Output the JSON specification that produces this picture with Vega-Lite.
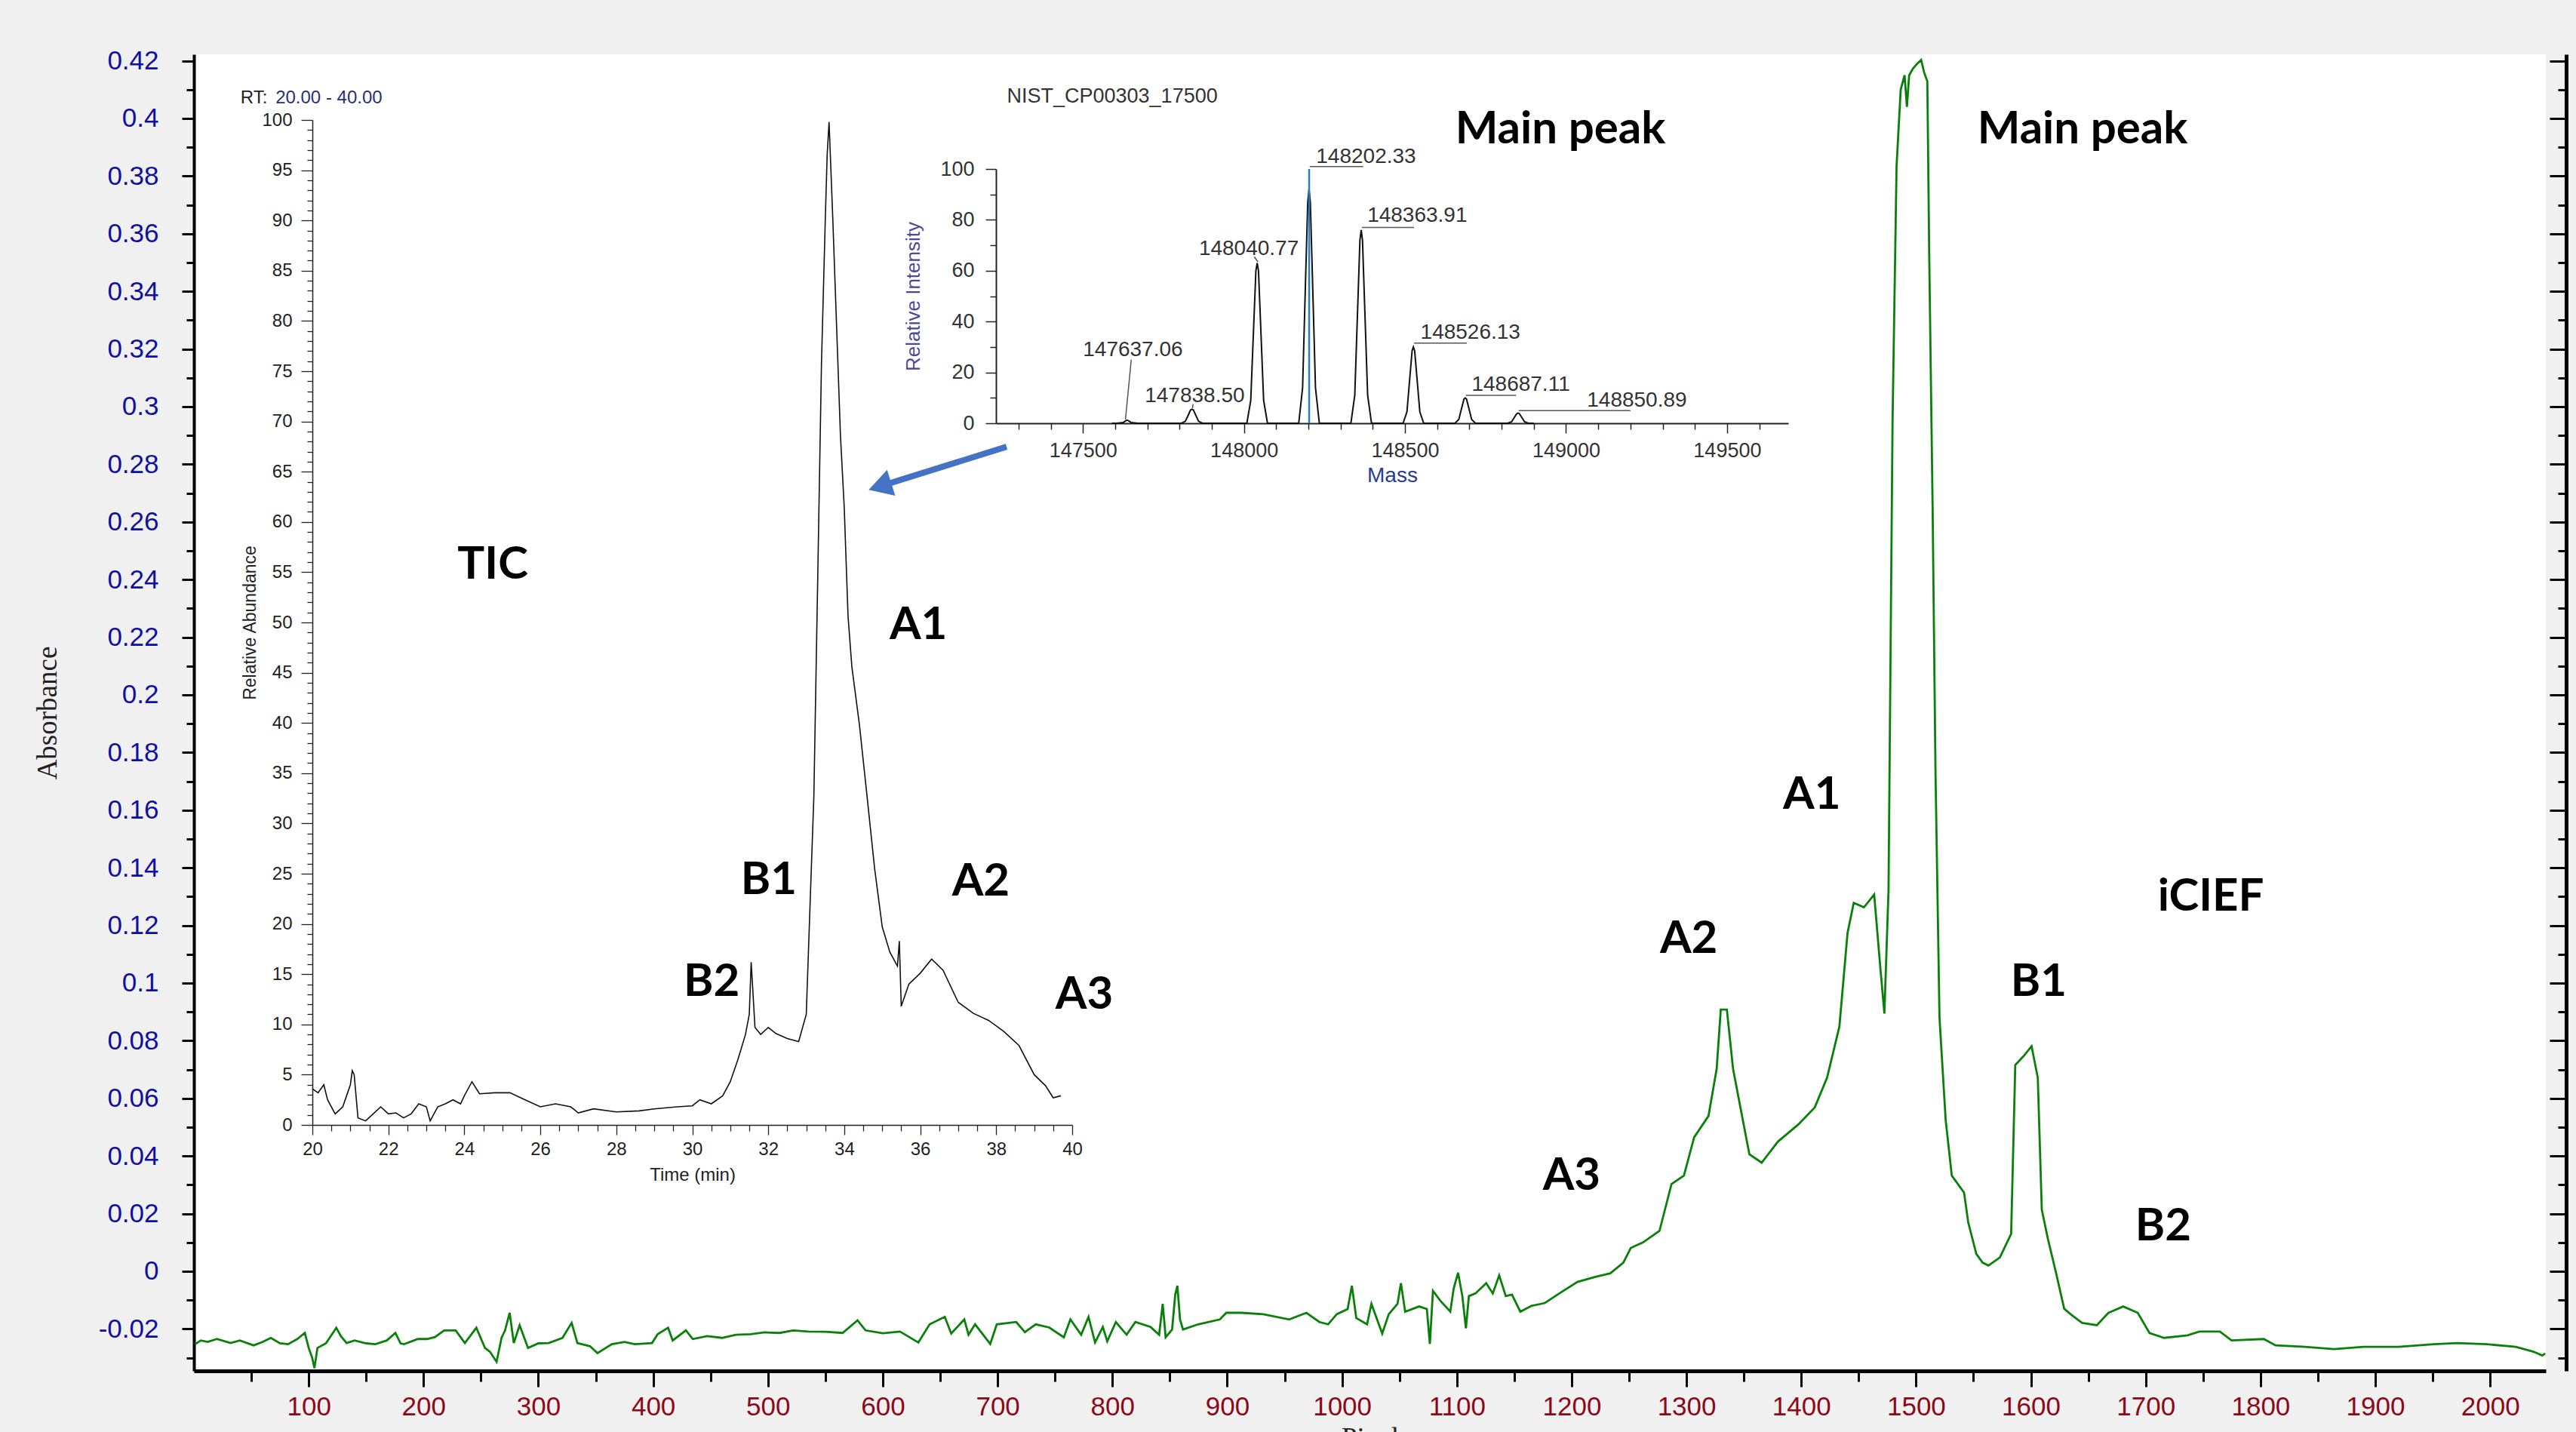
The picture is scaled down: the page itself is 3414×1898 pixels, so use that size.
{
  "$schema": "https://vega.github.io/schema/vega-lite/v6.json",
  "width": 3117,
  "height": 1745,
  "autosize": {"type": "none"},
  "padding": {"left": 257, "top": 72, "right": 40, "bottom": 81},
  "background": "#f0f0f0",
  "config": {"view": {"fill": "white", "stroke": null}},
  "datasets": {
    "icief": [
      {"X":1,"Y":-0.0253},{"X":6,"Y":-0.024},{"X":12,"Y":-0.0245},{"X":20,"Y":-0.0235},{"X":32,"Y":-0.0249},{"X":40,"Y":-0.024},{"X":52,"Y":-0.0257},{"X":60,"Y":-0.0245},{"X":67,"Y":-0.0231},{"X":75,"Y":-0.025},{"X":82,"Y":-0.0253},{"X":90,"Y":-0.0235},{"X":96.6,"Y":-0.0214},{"X":100,"Y":-0.0266},{"X":103,"Y":-0.03},{"X":105,"Y":-0.0336},{"X":107.6,"Y":-0.0266},{"X":115,"Y":-0.025},{"X":124,"Y":-0.0196},{"X":128,"Y":-0.0225},{"X":133,"Y":-0.0249},{"X":140,"Y":-0.024},{"X":150,"Y":-0.025},{"X":158,"Y":-0.0253},{"X":168,"Y":-0.024},{"X":175.5,"Y":-0.0214},{"X":180,"Y":-0.025},{"X":183,"Y":-0.0253},{"X":195,"Y":-0.0235},{"X":203,"Y":-0.0235},{"X":210,"Y":-0.0228},{"X":218,"Y":-0.0205},{"X":228,"Y":-0.0205},{"X":236,"Y":-0.0249},{"X":246,"Y":-0.0196},{"X":253.5,"Y":-0.0266},{"X":258,"Y":-0.028},{"X":263.6,"Y":-0.0314},{"X":268,"Y":-0.023},{"X":271,"Y":-0.0205},{"X":275,"Y":-0.0144},{"X":278.6,"Y":-0.0249},{"X":283.7,"Y":-0.0187},{"X":291,"Y":-0.0266},{"X":300,"Y":-0.025},{"X":309,"Y":-0.0249},{"X":321,"Y":-0.0231},{"X":329,"Y":-0.0179},{"X":334,"Y":-0.0249},{"X":345,"Y":-0.026},{"X":351.5,"Y":-0.0284},{"X":364,"Y":-0.0253},{"X":375,"Y":-0.0245},{"X":384,"Y":-0.0253},{"X":399,"Y":-0.0249},{"X":404,"Y":-0.0218},{"X":413,"Y":-0.0196},{"X":417,"Y":-0.024},{"X":428.5,"Y":-0.0205},{"X":434.5,"Y":-0.0235},{"X":447,"Y":-0.0225},{"X":460,"Y":-0.0231},{"X":472,"Y":-0.022},{"X":485,"Y":-0.0218},{"X":497,"Y":-0.0212},{"X":510,"Y":-0.0214},{"X":522,"Y":-0.0205},{"X":535,"Y":-0.0209},{"X":550,"Y":-0.021},{"X":565,"Y":-0.0214},{"X":578,"Y":-0.017},{"X":585,"Y":-0.0205},{"X":600,"Y":-0.0215},{"X":615,"Y":-0.0209},
      {"X":631,"Y":-0.0247},{"X":640.8,"Y":-0.0184},{"X":654,"Y":-0.0158},{"X":659.6,"Y":-0.0216},{"X":671,"Y":-0.0167},{"X":674.7,"Y":-0.022},{"X":680.4,"Y":-0.0184},{"X":693.6,"Y":-0.0252},{"X":699.3,"Y":-0.0184},{"X":716.2,"Y":-0.0176},{"X":723.8,"Y":-0.0211},{"X":733.2,"Y":-0.0184},{"X":745,"Y":-0.0195},{"X":757.7,"Y":-0.0229},{"X":763.4,"Y":-0.0167},{"X":772.8,"Y":-0.022},{"X":779.2,"Y":-0.0158},{"X":784.9,"Y":-0.0247},{"X":791.7,"Y":-0.0193},{"X":795.5,"Y":-0.0243},{"X":803,"Y":-0.0176},{"X":812.4,"Y":-0.022},{"X":820,"Y":-0.0176},{"X":833.2,"Y":-0.0193},{"X":840.7,"Y":-0.022},{"X":843.8,"Y":-0.0113},{"X":846.4,"Y":-0.0229},{"X":852,"Y":-0.0202},{"X":854.7,"Y":-0.0082},{"X":856.6,"Y":-0.005},{"X":858.9,"Y":-0.0167},{"X":861.5,"Y":-0.0202},{"X":874.7,"Y":-0.0184},{"X":893.6,"Y":-0.0167},{"X":899.2,"Y":-0.0144},{"X":912.4,"Y":-0.0144},{"X":931.3,"Y":-0.0149},{"X":954,"Y":-0.0167},{"X":969,"Y":-0.0144},{"X":980.3,"Y":-0.0176},{"X":987.9,"Y":-0.0184},{"X":995.4,"Y":-0.0149},{"X":1004.9,"Y":-0.0131},{"X":1008.6,"Y":-0.005},{"X":1012.4,"Y":-0.0162},{"X":1021.8,"Y":-0.0184},{"X":1025.6,"Y":-0.0113},{"X":1035,"Y":-0.0216},{"X":1040.7,"Y":-0.0149},{"X":1048.3,"Y":-0.0113},{"X":1051.3,"Y":-0.0041},{"X":1055,"Y":-0.014},{"X":1067.1,"Y":-0.0122},{"X":1073.9,"Y":-0.0131},{"X":1076.5,"Y":-0.0252},{"X":1079.2,"Y":-0.0068},{"X":1086,"Y":-0.0104},{"X":1094.3,"Y":-0.014},{"X":1097.3,"Y":-0.0059},{"X":1101.1,"Y":-0.0005},{"X":1104.8,"Y":-0.0086},{"X":1107.9,"Y":-0.0198},{"X":1110.5,"Y":-0.0086},{"X":1116.2,"Y":-0.0077},{"X":1125.6,"Y":-0.0041},{"X":1131.3,"Y":-0.0077},{"X":1136.9,"Y":-0.0014},{"X":1142.6,"Y":-0.0086},
      {"X":1148,"Y":-0.0081},{"X":1155.3,"Y":-0.014},{"X":1165,"Y":-0.012},{"X":1176.7,"Y":-0.011},{"X":1190,"Y":-0.0075},{"X":1205,"Y":-0.0037},{"X":1220,"Y":-0.002},{"X":1233.7,"Y":-0.0007},{"X":1245,"Y":0.003},{"X":1251.5,"Y":0.0081},{"X":1262,"Y":0.01},{"X":1276.5,"Y":0.014},{"X":1287,"Y":0.0303},{"X":1297.8,"Y":0.0332},{"X":1306.7,"Y":0.0465},{"X":1319.2,"Y":0.0539},{"X":1326.3,"Y":0.0702},{"X":1329.9,"Y":0.0908},{"X":1335.2,"Y":0.0908},{"X":1340.6,"Y":0.0702},{"X":1347.7,"Y":0.0554},{"X":1354.8,"Y":0.0406},{"X":1365.5,"Y":0.0377},{"X":1379.7,"Y":0.045},{"X":1397.6,"Y":0.051},{"X":1411.8,"Y":0.0569},{"X":1422.5,"Y":0.0672},{"X":1433.2,"Y":0.0849},{"X":1440.3,"Y":0.1174},{"X":1445.7,"Y":0.1278},{"X":1454.6,"Y":0.1263},{"X":1463.5,"Y":0.1307},{"X":1468.8,"Y":0.1056},{"X":1472.4,"Y":0.0894},{"X":1476,"Y":0.1322},{"X":1479.5,"Y":0.2947},{"X":1483,"Y":0.3834},{"X":1486.6,"Y":0.41},{"X":1490,"Y":0.415},{"X":1492,"Y":0.404},{"X":1494,"Y":0.415},{"X":1497.3,"Y":0.4173},{"X":1501,"Y":0.419},{"X":1504.4,"Y":0.4203},{"X":1507,"Y":0.416},{"X":1509.8,"Y":0.4129},{"X":1511.5,"Y":0.3509},{"X":1514.4,"Y":0.2652},{"X":1516.9,"Y":0.1736},{"X":1520.4,"Y":0.0879},{"X":1525.8,"Y":0.0524},{"X":1531.1,"Y":0.0332},{"X":1541.8,"Y":0.0273},{"X":1545.4,"Y":0.017},{"X":1552.5,"Y":0.006},{"X":1558,"Y":0.003},{"X":1563,"Y":0.002},{"X":1573,"Y":0.0048},{"X":1582.8,"Y":0.013},{"X":1586.4,"Y":0.0716},{"X":1593.5,"Y":0.0746},{"X":1600.6,"Y":0.0781},{"X":1606,"Y":0.0672},{"X":1609.5,"Y":0.0214},{"X":1614.9,"Y":0.0111},{"X":1622,"Y":-0.0007},{"X":1629,"Y":-0.013},{"X":1635,"Y":-0.015},{"X":1644.6,"Y":-0.0179},{"X":1657.4,"Y":-0.0187},{"X":1667.6,"Y":-0.0144},{"X":1680.4,"Y":-0.0122},{"X":1693.1,"Y":-0.0144},{"X":1703.3,"Y":-0.0214},{"X":1716.1,"Y":-0.0231},{"X":1736.5,"Y":-0.0222},{"X":1746.7,"Y":-0.0209},{"X":1764.6,"Y":-0.0209},{"X":1774.8,"Y":-0.024},{"X":1802.9,"Y":-0.0235},{"X":1813.1,"Y":-0.0257},{"X":1838.6,"Y":-0.0262},{"X":1864.1,"Y":-0.027},{"X":1889.6,"Y":-0.0262},{"X":1920.3,"Y":-0.0262},{"X":1950.9,"Y":-0.0253},{"X":1971.4,"Y":-0.0249},{"X":1996.9,"Y":-0.0253},{"X":2022.4,"Y":-0.0262},{"X":2037.8,"Y":-0.0279},{"X":2045.4,"Y":-0.0292},{"X":2048,"Y":-0.0285}
    ],
    "mainLabels": [
      {"X":260.3,"Y":0.245,"label":"TIC"},
      {"X":631.0,"Y":0.2241,"label":"A1"},
      {"X":500.8,"Y":0.1356,"label":"B1"},
      {"X":685.4,"Y":0.1351,"label":"A2"},
      {"X":450.9,"Y":0.1003,"label":"B2"},
      {"X":775.5,"Y":0.0958,"label":"A3"},
      {"X":1190.2,"Y":0.3961,"label":"Main peak"},
      {"X":1645.0,"Y":0.3961,"label":"Main peak"},
      {"X":1409.2,"Y":0.1651,"label":"A1"},
      {"X":1302.0,"Y":0.1152,"label":"A2"},
      {"X":1200.0,"Y":0.033,"label":"A3"},
      {"X":1606.8,"Y":0.1002,"label":"B1"},
      {"X":1715.2,"Y":0.0154,"label":"B2"},
      {"X":1756.8,"Y":0.1298,"label":"iCIEF"}
    ],
    "arrowShaft": [{"X":707.8,"Y":0.2861},{"X":600.0,"Y":0.27267}],
    "arrowHead": [{"X":597.5,"Y":0.27236}],
    "tic": [
      {"t":20,"v":3.6},{"t":20.15,"v":3.2},{"t":20.3,"v":4.0},{"t":20.4,"v":2.5},{"t":20.6,"v":1.1},{"t":20.8,"v":1.8},{"t":20.9,"v":2.9},{"t":21.0,"v":4.0},{"t":21.05,"v":5.4},{"t":21.1,"v":5.0},{"t":21.2,"v":0.7},{"t":21.4,"v":0.4},{"t":21.6,"v":1.1},{"t":21.8,"v":1.8},{"t":22.0,"v":1.1},{"t":22.2,"v":1.2},{"t":22.4,"v":0.7},{"t":22.6,"v":1.1},{"t":22.8,"v":2.1},{"t":23.0,"v":1.8},{"t":23.1,"v":0.4},{"t":23.3,"v":1.8},{"t":23.5,"v":2.1},{"t":23.7,"v":2.5},{"t":23.9,"v":2.1},{"t":24.0,"v":2.9},{"t":24.2,"v":4.3},{"t":24.4,"v":3.1},{"t":24.8,"v":3.2},{"t":25.2,"v":3.2},{"t":25.6,"v":2.5},{"t":26.0,"v":1.8},{"t":26.4,"v":2.1},{"t":26.8,"v":1.8},{"t":27.0,"v":1.2},{"t":27.4,"v":1.6},{"t":28.0,"v":1.3},{"t":28.6,"v":1.4},{"t":29.0,"v":1.6},{"t":29.6,"v":1.8},{"t":30.0,"v":1.9},{"t":30.2,"v":2.5},{"t":30.5,"v":2.1},{"t":30.8,"v":2.9},{"t":31.0,"v":4.3},{"t":31.2,"v":6.5},{"t":31.4,"v":9.0},{"t":31.5,"v":11.0},{"t":31.55,"v":16.2},{"t":31.65,"v":9.7},{"t":31.8,"v":9.0},{"t":32.0,"v":9.7},{"t":32.2,"v":9.1},{"t":32.5,"v":8.6},{"t":32.8,"v":8.3},{"t":33.0,"v":11.0},{"t":33.1,"v":21.9},{"t":33.2,"v":32.7},{"t":33.3,"v":54},{"t":33.4,"v":75.7},{"t":33.5,"v":90},{"t":33.55,"v":96.5},{"t":33.6,"v":99.8},{"t":33.7,"v":90},{"t":33.8,"v":79.3},{"t":33.9,"v":68.6},{"t":34.0,"v":61.4},{"t":34.1,"v":50.6},{"t":34.2,"v":45.6},{"t":34.4,"v":39.8},{"t":34.6,"v":32.7},{"t":34.8,"v":25.5},{"t":35.0,"v":19.7},{"t":35.2,"v":17.2},{"t":35.4,"v":15.8},{"t":35.45,"v":18.3},{"t":35.5,"v":11.8},{"t":35.7,"v":14},{"t":36.0,"v":15.1},{"t":36.3,"v":16.5},{"t":36.6,"v":15.4},{"t":37.0,"v":12.2},{"t":37.4,"v":11.1},{"t":37.8,"v":10.4},{"t":38.2,"v":9.3},{"t":38.6,"v":7.9},{"t":39.0,"v":5.0},{"t":39.3,"v":3.9},{"t":39.5,"v":2.7},{"t":39.7,"v":2.9}
    ],
    "ms": [
      {"m":147590,"v":0},
      {"m":147605,"v":0},{"m":147625,"v":0.3},{"m":147632,"v":0.9},{"m":147637,"v":1.2},{"m":147642,"v":0.9},{"m":147650,"v":0.3},{"m":147670,"v":0},
      {"m":147806,"v":0},{"m":147818,"v":0.8},{"m":147828,"v":3.5},{"m":147834,"v":5.2},{"m":147838.5,"v":5.5},{"m":147843,"v":5.2},{"m":147849,"v":3.5},{"m":147859,"v":0.8},{"m":147871,"v":0},
      {"m":148009,"v":0},{"m":148021,"v":9},{"m":148031,"v":41},{"m":148037,"v":60},{"m":148041,"v":63},{"m":148045,"v":60},{"m":148051,"v":41},{"m":148061,"v":9},{"m":148073,"v":0},
      {"m":148170,"v":0},{"m":148182,"v":14},{"m":148192,"v":60},{"m":148198,"v":87},{"m":148202,"v":92},{"m":148206,"v":87},{"m":148212,"v":60},{"m":148222,"v":14},{"m":148234,"v":0},
      {"m":148332,"v":0},{"m":148344,"v":11},{"m":148354,"v":49},{"m":148360,"v":72},{"m":148364,"v":76},{"m":148368,"v":72},{"m":148374,"v":49},{"m":148384,"v":11},{"m":148396,"v":0},
      {"m":148494,"v":0},{"m":148506,"v":4.5},{"m":148516,"v":19.5},{"m":148522,"v":28.5},{"m":148526,"v":30},{"m":148530,"v":28.5},{"m":148536,"v":19.5},{"m":148546,"v":4.5},{"m":148558,"v":0},
      {"m":148655,"v":0},{"m":148667,"v":1.5},{"m":148677,"v":6.5},{"m":148683,"v":9.5},{"m":148687,"v":10},{"m":148691,"v":9.5},{"m":148697,"v":6.5},{"m":148707,"v":1.5},{"m":148719,"v":0},
      {"m":148819,"v":0},{"m":148831,"v":0.6},{"m":148841,"v":2.6},{"m":148847,"v":3.8},{"m":148851,"v":4},{"m":148855,"v":3.8},{"m":148861,"v":2.6},{"m":148871,"v":0.6},{"m":148883,"v":0},{"m":148900,"v":0}
    ],
    "msLabels": [
      {"m":147500,"v":26.5,"label":"147637.06"},
      {"m":147692,"v":8.2,"label":"147838.50"},
      {"m":147860,"v":66.1,"label":"148040.77"},
      {"m":148224,"v":102.3,"label":"148202.33"},
      {"m":148383,"v":79.1,"label":"148363.91"},
      {"m":148548,"v":33.3,"label":"148526.13"},
      {"m":148707,"v":12.8,"label":"148687.11"},
      {"m":149065,"v":6.5,"label":"148850.89"}
    ],
    "msLeaders": [
      {"m":147632,"v":1.5,"m2":147650,"v2":25},
      {"m":147840,"v":6,"m2":147842,"v2":7.5},
      {"m":148043,"v":63.5,"m2":148032,"v2":65.5},
      {"m":148204,"v":101,"m2":148370,"v2":101},
      {"m":148366,"v":77,"m2":148528,"v2":77},
      {"m":148528,"v":31.5,"m2":148692,"v2":31.5},
      {"m":148689,"v":11,"m2":148845,"v2":11},
      {"m":148853,"v":5,"m2":149200,"v2":5}
    ]
  },
  "layer": [
    {
      "encoding": {
        "x": {"field": "X", "type": "quantitative",
          "scale": {"domain": [0, 2048.5], "nice": false, "zero": false},
          "axis": {"orient": "bottom", "title": "Pixel", "grid": false,
            "values": [50,100,150,200,250,300,350,400,450,500,550,600,650,700,750,800,850,900,950,1000,1050,1100,1150,1200,1250,1300,1350,1400,1450,1500,1550,1600,1650,1700,1750,1800,1850,1900,1950,2000],
            "labelExpr": "datum.value % 100 == 0 ? '' + datum.value : ''",
            "tickSize": {"condition": {"test": "datum.value % 100 == 0", "value": 21}, "value": 14},
            "tickWidth": 3, "tickColor": "black", "domainColor": "black", "domainWidth": 5,
            "labelColor": "#8b0a1a", "labelFont": "Liberation Sans", "labelFontSize": 35, "labelPadding": 9,
            "labelFlush": false, "labelOverlap": false, "labelBound": false,
            "titleFont": "Liberation Serif", "titleFontSize": 37, "titleFontWeight": "normal", "titleColor": "#222", "titlePadding": 6}},
        "y": {"field": "Y", "type": "quantitative",
          "scale": {"domain": [-0.034555, 0.42225], "nice": false, "zero": false},
          "axis": {"orient": "left", "title": "Absorbance", "grid": false,
            "values": [-0.03,-0.02,-0.01,0,0.01,0.02,0.03,0.04,0.05,0.06,0.07,0.08,0.09,0.1,0.11,0.12,0.13,0.14,0.15,0.16,0.17,0.18,0.19,0.2,0.21,0.22,0.23,0.24,0.25,0.26,0.27,0.28,0.29,0.3,0.31,0.32,0.33,0.34,0.35,0.36,0.37,0.38,0.39,0.4,0.41,0.42],
            "labelExpr": "abs(round(datum.value*100)) % 2 == 0 ? '' + datum.value : ''",
            "tickSize": {"condition": {"test": "abs(round(datum.value*100)) % 2 == 0", "value": 16}, "value": 10},
            "tickWidth": 3, "tickColor": "black", "domainColor": "black", "domainWidth": 4,
            "labelColor": "#1010a0", "labelFont": "Liberation Sans", "labelFontSize": 35, "labelPadding": 31,
            "labelFlush": false, "labelOverlap": false, "labelBound": false,
            "titleFont": "Liberation Serif", "titleFontSize": 37, "titleFontWeight": "normal", "titleColor": "#222", "titlePadding": 48}}
      },
      "layer": [
        {"data": {"name": "icief"}, "mark": {"type": "line", "color": "#0a800a", "strokeWidth": 2.8}, "encoding": {}},
        {"data": {"name": "arrowShaft"}, "mark": {"type": "line", "color": "#4472c4", "strokeWidth": 8, "strokeCap": "butt"}, "encoding": {}},
        {"data": {"name": "arrowHead"}, "mark": {"type": "point", "shape": "triangle-right", "angle": 162.6, "size": 1300, "filled": true, "color": "#4472c4", "opacity": 1}, "encoding": {}},
        {"data": {"name": "mainLabels"}, "mark": {"type": "text", "font": "Lato", "fontWeight": "bold", "fontSize": 60, "color": "black", "align": "center", "baseline": "middle"},
          "encoding": {"text": {"field": "label"}}}
      ]
    },
    {
      "data": {"values": [{"Y": 0}]},
      "mark": {"type": "point", "opacity": 0},
      "encoding": {
        "y": {"field": "Y", "type": "quantitative",
          "scale": {"domain": [-0.034555, 0.42225], "nice": false, "zero": false},
          "axis": {"orient": "right", "title": null, "grid": false, "labels": false, "offset": 27,
            "values": [-0.03,-0.02,-0.01,0,0.01,0.02,0.03,0.04,0.05,0.06,0.07,0.08,0.09,0.1,0.11,0.12,0.13,0.14,0.15,0.16,0.17,0.18,0.19,0.2,0.21,0.22,0.23,0.24,0.25,0.26,0.27,0.28,0.29,0.3,0.31,0.32,0.33,0.34,0.35,0.36,0.37,0.38,0.39,0.4,0.41,0.42],
            "tickSize": {"condition": {"test": "abs(round(datum.value*100)) % 2 == 0", "value": -22}, "value": -11},
            "tickWidth": 3, "tickColor": "black", "domainColor": "black", "domainWidth": 5}}
      }
    },
    {
      "encoding": {
        "x": {"field": "t", "type": "quantitative",
          "scale": {"domain": [20, 40], "range": [157, 1164], "nice": false, "zero": false},
          "axis": {"orient": "bottom", "offset": -326, "title": "Time (min)", "grid": false,
            "values": [20,20.5,21,21.5,22,22.5,23,23.5,24,24.5,25,25.5,26,26.5,27,27.5,28,28.5,29,29.5,30,30.5,31,31.5,32,32.5,33,33.5,34,34.5,35,35.5,36,36.5,37,37.5,38,38.5,39,39.5,40],
            "labelExpr": "datum.value % 2 == 0 ? '' + datum.value : ''",
            "tickSize": {"condition": {"test": "datum.value % 2 == 0", "value": 13}, "value": 8},
            "tickWidth": 1.3, "tickColor": "#222", "domainColor": "#222", "domainWidth": 1.5,
            "labelColor": "#222", "labelFont": "Liberation Sans", "labelFontSize": 24, "labelPadding": 7,
            "labelFlush": false, "labelOverlap": false, "labelBound": false,
            "titleFont": "Liberation Sans", "titleFontSize": 24, "titleFontWeight": "normal", "titleColor": "#222", "titlePadding": 10}},
        "y": {"field": "v", "type": "quantitative",
          "scale": {"domain": [0, 100], "range": [1419, 87], "nice": false, "zero": false},
          "axis": {"orient": "left", "offset": -157, "title": "Relative Abundance", "grid": false,
            "values": [0,1,2,3,4,5,6,7,8,9,10,11,12,13,14,15,16,17,18,19,20,21,22,23,24,25,26,27,28,29,30,31,32,33,34,35,36,37,38,39,40,41,42,43,44,45,46,47,48,49,50,51,52,53,54,55,56,57,58,59,60,61,62,63,64,65,66,67,68,69,70,71,72,73,74,75,76,77,78,79,80,81,82,83,84,85,86,87,88,89,90,91,92,93,94,95,96,97,98,99,100],
            "labelExpr": "datum.value % 5 == 0 ? '' + datum.value : ''",
            "tickSize": {"condition": {"test": "datum.value % 5 == 0", "value": 15}, "value": 7},
            "tickWidth": 1.3, "tickColor": "#222", "domainColor": "#222", "domainWidth": 1.5,
            "labelColor": "#222", "labelFont": "Liberation Sans", "labelFontSize": 24, "labelPadding": 12,
            "labelFlush": false, "labelOverlap": false, "labelBound": false,
            "titleFont": "Liberation Sans", "titleFontSize": 23, "titleFontWeight": "normal", "titleColor": "#222", "titlePadding": 3}}
      },
      "layer": [
        {"data": {"name": "tic"}, "mark": {"type": "line", "color": "#111", "strokeWidth": 1.6}, "encoding": {}},
        {"data": {"values": [{"t": 18.11, "v": 102.2, "label": "RT:"}]},
          "mark": {"type": "text", "font": "Liberation Sans", "fontSize": 24, "color": "#222", "align": "left", "baseline": "middle"},
          "encoding": {"text": {"field": "label"}}},
        {"data": {"values": [{"t": 19.03, "v": 102.2, "label": "20.00 - 40.00"}]},
          "mark": {"type": "text", "font": "Liberation Sans", "fontSize": 24, "color": "#2a2f78", "align": "left", "baseline": "middle"},
          "encoding": {"text": {"field": "label"}}}
      ]
    },
    {
      "encoding": {
        "x": {"field": "m", "type": "quantitative",
          "scale": {"domain": [147230, 149690], "range": [1063, 2113], "nice": false, "zero": false},
          "axis": {"orient": "bottom", "offset": -1256, "title": "Mass", "grid": false, "format": "d",
            "values": [147300,147400,147500,147600,147700,147800,147900,148000,148100,148200,148300,148400,148500,148600,148700,148800,148900,149000,149100,149200,149300,149400,149500,149600],
            "labelExpr": "datum.value % 500 == 0 ? '' + datum.value : ''",
            "tickSize": {"condition": {"test": "datum.value % 500 == 0", "value": 13}, "value": 8},
            "tickWidth": 1.5, "tickColor": "#222", "domainColor": "#222", "domainWidth": 2,
            "labelColor": "#333", "labelFont": "Liberation Sans", "labelFontSize": 27, "labelPadding": 10,
            "labelFlush": false, "labelOverlap": false, "labelBound": false,
            "titleFont": "Liberation Sans", "titleFontSize": 28, "titleFontWeight": "normal", "titleColor": "#2a3a9a", "titlePadding": 6}},
        "y": {"field": "v", "type": "quantitative",
          "scale": {"domain": [0, 100], "range": [489, 152], "nice": false, "zero": false},
          "axis": {"orient": "left", "offset": -1063, "title": "Relative Intensity", "grid": false,
            "values": [0,10,20,30,40,50,60,70,80,90,100],
            "labelExpr": "datum.value % 20 == 0 ? '' + datum.value : ''",
            "tickSize": {"condition": {"test": "datum.value % 20 == 0", "value": 14}, "value": 8},
            "tickWidth": 1.5, "tickColor": "#222", "domainColor": "#222", "domainWidth": 2,
            "labelColor": "#333", "labelFont": "Liberation Sans", "labelFontSize": 27, "labelPadding": 15,
            "labelFlush": false, "labelOverlap": false, "labelBound": false,
            "titleFont": "Liberation Sans", "titleFontSize": 26, "titleFontWeight": "normal", "titleColor": "#4a4a9a", "titlePadding": 22}}
      },
      "layer": [
        {"data": {"name": "ms"}, "mark": {"type": "line", "color": "#111", "strokeWidth": 2}, "encoding": {}},
        {"data": {"values": [{"m": 148202.33, "v": 0, "v2": 100}]},
          "mark": {"type": "rule", "color": "#2b7bb9", "strokeWidth": 2.5},
          "encoding": {"y2": {"field": "v2"}}},
        {"data": {"name": "msLeaders"}, "mark": {"type": "rule", "color": "#555", "strokeWidth": 1.5},
          "encoding": {"x2": {"field": "m2"}, "y2": {"field": "v2"}}},
        {"data": {"name": "msLabels"}, "mark": {"type": "text", "font": "Liberation Sans", "fontSize": 28, "color": "#333", "align": "left", "baseline": "alphabetic"},
          "encoding": {"text": {"field": "label"}}},
        {"data": {"values": [{"m": 147591, "v": 128.5, "label": "NIST_CP00303_17500"}]},
          "mark": {"type": "text", "font": "Liberation Sans", "fontSize": 27, "color": "#333", "align": "center", "baseline": "middle"},
          "encoding": {"text": {"field": "label"}}}
      ]
    }
  ],
  "resolve": {"scale": {"x": "independent", "y": "independent"}, "axis": {"x": "independent", "y": "independent"}}
}
